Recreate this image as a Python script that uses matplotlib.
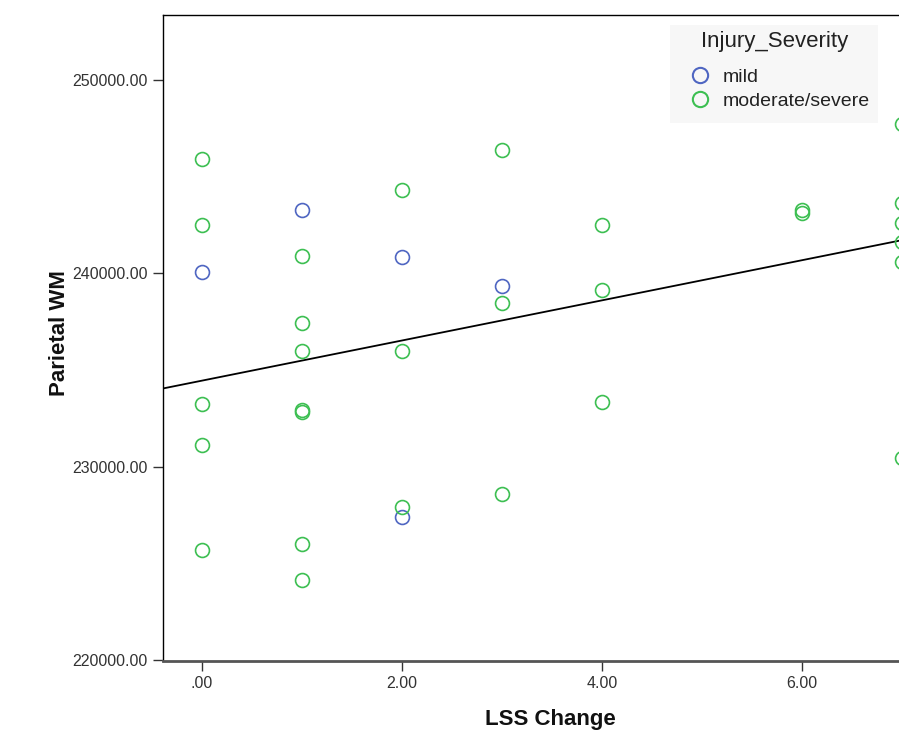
import matplotlib.pyplot as plt
from matplotlib.lines import Line2D
from matplotlib.patches import Rectangle

plt.rcParams['font.family'] = ['Liberation Sans', 'DejaVu Sans']

# LSS change / parietal WM
mild_x = [0, 1, 2, 2, 3]
mild_y = [240090, 243290, 240860, 227390, 239360]

mod_x = [0, 0, 0, 0, 0,
         1, 1, 1, 1, 1, 1, 1,
         2, 2, 2,
         3, 3, 3,
         4, 4, 4,
         6, 6,
         7, 7, 7, 7, 7, 7]
mod_y = [245920, 242510, 233220, 231100, 225680,
         240910, 237450, 235960, 232910, 232810, 225990, 224130,
         244320, 235960, 227900,
         246390, 238490, 228570,
         242510, 239160, 233320,
         243290, 243130,
         247730, 243650, 242620, 241640, 240600, 230430]

# overall fit line (total population)
fit_intercept = 234450
fit_slope = 1038

x_ticks = [0, 2, 4, 6]
x_ticklabels = ['.00', '2.00', '4.00', '6.00']
y_ticks = [220000, 230000, 240000, 250000]
y_ticklabels = ['220000.00', '230000.00', '240000.00', '250000.00']

blue = '#4f66c2'
green = '#3dbf52'
W, H = 899, 741

fig = plt.figure(figsize=(W / 100, H / 100), dpi=100)
ax = fig.add_axes([163 / W, 80 / H, 736 / W, 646 / H])

ax.plot(mild_x, mild_y, 'o', mfc='none', mec=blue, ms=10, mew=1.2, clip_on=False, zorder=3)
ax.plot(mod_x, mod_y, 'o', mfc='none', mec=green, ms=10, mew=1.2, clip_on=False, zorder=3)

xl = (-0.39, 6.97)
ax.plot(xl, [fit_intercept + fit_slope * v for v in xl], color='black', lw=1.3)

ax.set_xlim(xl)
ax.set_ylim(219950, 253360)

ax.spines['right'].set_visible(False)
for s in ['left', 'top']:
    ax.spines[s].set_linewidth(1.0)
ax.spines['bottom'].set_linewidth(2.0)
ax.spines['bottom'].set_color('#555555')

ax.set_xticks(x_ticks)
ax.set_xticklabels(x_ticklabels, fontsize=11.5)
ax.set_yticks(y_ticks)
ax.set_yticklabels(y_ticklabels, fontsize=11.5)
ax.tick_params(axis='both', length=7, width=1, color='#333333', labelcolor='#333333')
ax.tick_params(axis='x', pad=3.5)
ax.tick_params(axis='y', pad=4)

ax.set_xlabel('LSS Change', fontsize=16, fontweight='bold', color='#111111')
ax.xaxis.set_label_coords(0.527, -0.074)
ax.set_ylabel('Parietal WM', fontsize=16, fontweight='bold', color='#111111')
ax.yaxis.set_label_coords(-0.126, 0.508)

# legend panel
ax.add_patch(Rectangle((670 / W, 1 - 123 / H), 208 / W, 98 / H, transform=fig.transFigure,
                       facecolor='#f7f7f7', edgecolor='none', clip_on=False, zorder=1))
fig.text(775 / W, 1 - 42 / H, 'Injury_Severity', fontsize=16, color='#222222',
         ha='center', va='center', zorder=5)

handles = [Line2D([], [], marker='o', ls='none', mfc='none', mec=blue, ms=11, mew=1.5),
           Line2D([], [], marker='o', ls='none', mfc='none', mec=green, ms=11, mew=1.5)]
leg = ax.legend(handles, ['mild', 'moderate/severe'],
                loc='upper left', bbox_to_anchor=(690 / W, 1 - 68 / H),
                bbox_transform=fig.transFigure, frameon=False,
                fontsize=14, handletextpad=0.7, labelspacing=0.35,
                handlelength=1.0, borderpad=0, borderaxespad=0)
for t in leg.get_texts():
    t.set_color('#222222')

fig.savefig('out.png', dpi=100)
